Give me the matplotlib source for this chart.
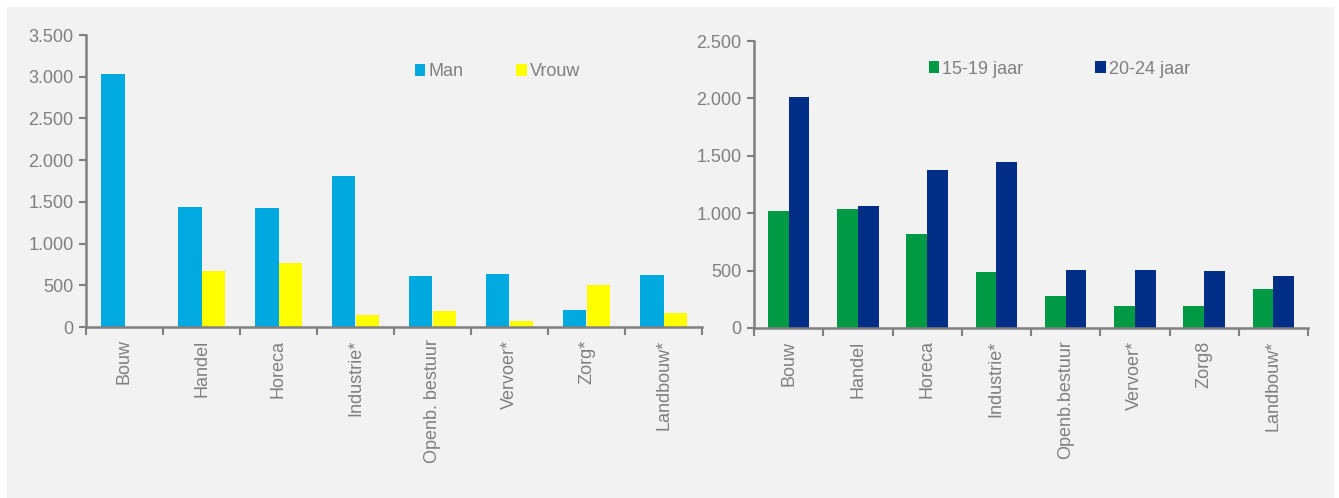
import matplotlib
matplotlib.use("Agg")
import matplotlib.pyplot as plt
from matplotlib.patches import Rectangle
import numpy as np

W, H = 1339, 498
DPI = 100

# ---- data ----
cats_left = ["Bouw", "Handel", "Horeca", "Industrie*", "Openb. bestuur", "Vervoer*", "Zorg*", "Landbouw*"]
man = [3030, 1440, 1430, 1806, 610, 638, 200, 627]
vrouw = [0, 666, 770, 140, 188, 68, 498, 172]

cats_right = ["Bouw", "Handel", "Horeca", "Industrie*", "Openb.bestuur", "Vervoer*", "Zorg8", "Landbouw*"]
age_15_19 = [1017, 1035, 817, 488, 282, 189, 189, 343]
age_20_24 = [2014, 1064, 1378, 1445, 509, 509, 500, 453]

yticks_left = [0, 500, 1000, 1500, 2000, 2500, 3000, 3500]
ytick_labels_left = ["0", "500", "1.000", "1.500", "2.000", "2.500", "3.000", "3.500"]
yticks_right = [0, 500, 1000, 1500, 2000, 2500]
ytick_labels_right = ["0", "500", "1.000", "1.500", "2.000", "2.500"]

# ---- style ----
FONT = "Liberation Sans"
FS = 13
GRAY = "#7f7f7f"
AX_GRAY = "#808080"
C_MAN = "#00a9e0"
C_VROUW = "#ffff00"
C_GREEN = "#009a44"
C_NAVY = "#002d86"

plt.rcParams["font.family"] = [FONT, "DejaVu Sans"]

fig = plt.figure(figsize=(W / DPI, H / DPI), dpi=DPI)
fig.patch.set_facecolor("white")
fig.patches.append(Rectangle((7 / W, 0), (1334 - 7) / W, (H - 7) / H,
                             transform=fig.transFigure, facecolor="#f2f2f2",
                             edgecolor="none", zorder=-10))


def make_axes(rect, cats, s1, s2, c1, c2, n1, n2, ymax, yt, ytl, leg_xy, colsp):
    ax = fig.add_axes(rect)
    ax.set_facecolor("none")
    x = np.arange(len(cats)) + 0.5
    bw = 0.30
    ax.bar(x - bw / 2, s1, width=bw, color=c1, label=n1, linewidth=0)
    ax.bar(x + bw / 2, s2, width=bw, color=c2, label=n2, linewidth=0)
    ax.set_xlim(0, len(cats))
    ax.set_ylim(0, ymax)
    ax.set_yticks(yt)
    ax.set_yticklabels(ytl)
    ax.set_xticks(np.arange(len(cats) + 1))
    ax.set_xticklabels([])
    ax.set_xticks(x, minor=True)
    ax.set_xticklabels(cats, minor=True, rotation=90, va="top", ha="center")
    ax.tick_params(axis="x", which="major", length=6, width=1.5, color=AX_GRAY, direction="out")
    ax.tick_params(axis="x", which="minor", length=0, pad=9, labelsize=FS, labelcolor=GRAY)
    ax.tick_params(axis="y", length=5, width=1.5, color=AX_GRAY, labelsize=FS,
                   labelcolor=GRAY, pad=4)
    for s in ["top", "right"]:
        ax.spines[s].set_visible(False)
    for s in ["left", "bottom"]:
        ax.spines[s].set_color(AX_GRAY)
        ax.spines[s].set_linewidth(1.8)
    leg = ax.legend(loc="center left", bbox_to_anchor=(leg_xy[0] / W, 1 - leg_xy[1] / H),
                    bbox_transform=fig.transFigure, ncol=2, frameon=False,
                    fontsize=FS, handlelength=0.6, handleheight=0.62,
                    handletextpad=0.15, columnspacing=colsp, borderpad=0,
                    borderaxespad=0)
    for t in leg.get_texts():
        t.set_color(GRAY)
    return ax


make_axes([86 / W, (H - 327) / H, 616 / W, 292 / H], cats_left, man, vrouw,
          C_MAN, C_VROUW, "Man", "Vrouw", 3500, yticks_left, ytick_labels_left,
          (414.5, 72), 2.95)
make_axes([754 / W, (H - 328) / H, 554 / W, 287 / H], cats_right, age_15_19, age_20_24,
          C_GREEN, C_NAVY, "15-19 jaar", "20-24 jaar", 2500, yticks_right, ytick_labels_right,
          (928.5, 69), 4.0)

fig.savefig("out.png", dpi=DPI, facecolor=fig.get_facecolor())
